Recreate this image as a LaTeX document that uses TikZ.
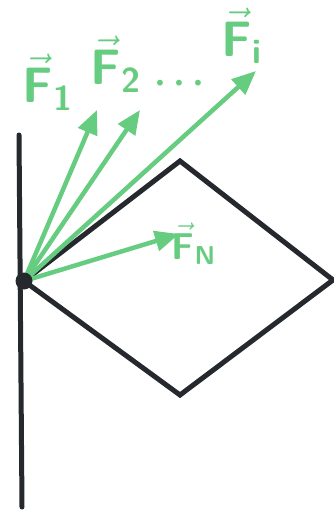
\documentclass[tikz,border=0pt]{standalone}
\usepackage{fontspec}
\usepackage{amsmath}
\usepackage{graphicx}
\usetikzlibrary{arrows.meta}
\definecolor{fgreen}{RGB}{102,204,128}
\definecolor{ink}{RGB}{37,40,45}
\newcommand{\glyph}[1]{\text{\sffamily\bfseries #1}}
\newcommand{\biglbl}[1]{\scalebox{2.4}{\huge #1}}
\newcommand{\midlbl}[1]{\scalebox{1.8}{\huge #1}}
\begin{document}
\begin{tikzpicture}[x=1pt,y=-1pt,
  wall/.style={ink,line width=5pt,line cap=round},
  body/.style={ink,line width=5pt,line join=miter},
  force/.style={fgreen,line width=4.5pt,-{Triangle[length=24pt,width=20pt]}},
  lbl/.style={fgreen,inner sep=0pt}]
\useasboundingbox (0,0) rectangle (333,511);
\coordinate (O) at (24,281);
\coordinate (wt) at (19,135);
\coordinate (wb) at (22,507);
\coordinate (dT) at (180,161);
\coordinate (dR) at (333,280);
\coordinate (dB) at (180,395);
\coordinate (t1) at (97,110);
\coordinate (t2) at (140,110);
\coordinate (ti) at (256,71);
\coordinate (tN) at (179,234);
\draw[wall] (wt) -- (wb);
\draw[body] (O) -- (dT) -- (dR) -- (dB) -- cycle;
\draw[force] (O) -- (t1);
\draw[force] (O) -- (t2);
\draw[force] (O) -- (ti);
\draw[force] (O) -- (tN);
\fill[ink] (O) circle (8.5pt);
\node[lbl] (L1) at (48,82) {\biglbl{$\vec{\glyph{F}}_{\glyph{1}}$}};
\node[lbl] (L2) at (116,64) {\biglbl{$\vec{\glyph{F}}_{\glyph{2}}$}};
\node[lbl] (Ld) at (183,84) {\midlbl{$\boldsymbol{\cdots}$}};
\node[lbl] (Li) at (242,36) {\biglbl{$\vec{\glyph{F}}_{\glyph{i}}$}};
\node[lbl] (LN) at (194,244) {\midlbl{$\vec{\glyph{F}}_{\glyph{N}}$}};
\end{tikzpicture}
\end{document}
